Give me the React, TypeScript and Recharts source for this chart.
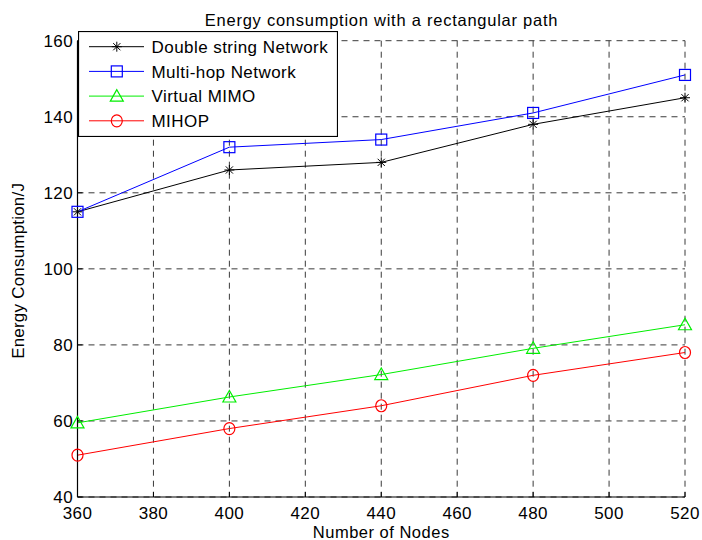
import React from 'react';
import { LineChart, Line, XAxis, YAxis, CartesianGrid, Legend, Label } from 'recharts';

const nodes = [360, 400, 440, 480, 520];
const doubleString = [115, 126, 128, 138, 145];
const multiHop = [115, 132, 134, 141, 151];
const virtualMimo = [59.5, 66.3, 72.2, 79.1, 85.3];
const mihop = [51, 58, 64, 72, 78];

const xTicks = [360, 380, 400, 420, 440, 460, 480, 500, 520];
const yTicks = [40, 60, 80, 100, 120, 140, 160];

const titleText = 'Energy consumption with a rectangular path';
const xLabelText = 'Number of Nodes';
const yLabelText = 'Energy Consumption/J';

const FONT = '"Liberation Sans", Arial, Helvetica, sans-serif';

const data = nodes.map((n, i) => ({
  n,
  ds: doubleString[i],
  mh: multiHop[i],
  vm: virtualMimo[i],
  mi: mihop[i],
}));

type Shape = 'star' | 'square' | 'triangle' | 'circle';

const Marker = ({ cx, cy, shape, color }: { cx: number; cy: number; shape: Shape; color: string }) => {
  if (cx == null || cy == null) return null;
  if (shape === 'star') {
    const r = 5;
    const d = 3.6;
    return (
      <g stroke={color} strokeWidth={1} fill="none">
        <line x1={cx - r} y1={cy} x2={cx + r} y2={cy} />
        <line x1={cx} y1={cy - r} x2={cx} y2={cy + r} />
        <line x1={cx - d} y1={cy - d} x2={cx + d} y2={cy + d} />
        <line x1={cx - d} y1={cy + d} x2={cx + d} y2={cy - d} />
      </g>
    );
  }
  if (shape === 'square') {
    return <rect x={cx - 5.5} y={cy - 5.5} width={11} height={11} stroke={color} strokeWidth={1.2} fill="none" />;
  }
  if (shape === 'triangle') {
    const p = `${cx},${cy - 6.5} ${cx - 6.5},${cy + 5} ${cx + 6.5},${cy + 5}`;
    return <polygon points={p} stroke={color} strokeWidth={1.2} fill="none" />;
  }
  return <ellipse cx={cx} cy={cy} rx={5.5} ry={6} stroke={color} strokeWidth={1.2} fill="none" />;
};

const series = [
  { key: 'ds', name: 'Double string Network', color: '#000000', shape: 'star' as Shape },
  { key: 'mh', name: 'Multi-hop Network', color: '#0000ff', shape: 'square' as Shape },
  { key: 'vm', name: 'Virtual MIMO', color: '#00ee00', shape: 'triangle' as Shape },
  { key: 'mi', name: 'MIHOP', color: '#ff0000', shape: 'circle' as Shape },
];

const LegendBox = () => (
  <svg width={260} height={106} style={{ display: 'block' }}>
    <rect x={0.5} y={0.5} width={259} height={105} fill="#ffffff" stroke="#000000" strokeWidth={1.2} />
    {series.map((s, i) => {
      const cy = 15.7 + i * 24.7;
      return (
        <g key={s.key}>
          <line x1={11} y1={cy} x2={66} y2={cy} stroke={s.color} strokeWidth={1} />
          <Marker cx={38.8} cy={cy} shape={s.shape} color={s.color} />
          <text x={73.5} y={cy + 6.2} fontSize={17} fontFamily={FONT} letterSpacing={0.45} fill="#000">
            {s.name}
          </text>
        </g>
      );
    })}
  </svg>
);

export default function App() {
  return (
    <div style={{ position: 'absolute', left: 0, top: 0, width: 702, height: 540, background: '#fff', overflow: 'hidden' }}>
      <div
        style={{
          position: 'absolute',
          left: 0,
          top: 11.5,
          width: 763,
          textAlign: 'center',
          fontFamily: FONT,
          fontSize: 16.5,
          lineHeight: '17px',
          letterSpacing: 0.75,
          color: '#000',
          zIndex: 2,
          pointerEvents: 'none',
        }}
      >
        {titleText}
      </div>
      <LineChart
        width={702}
        height={540}
        data={data}
        margin={{ top: 40.7, right: 17, bottom: 13, left: 17.5 }}
        style={{ fontFamily: FONT }}
      >
        <CartesianGrid stroke="#3a3a3a" strokeDasharray="6 5" strokeWidth={1} />
        <XAxis
          dataKey="n"
          type="number"
          domain={[360, 520]}
          ticks={xTicks}
          height={30}
          tickSize={-5}
          tickMargin={15}
          axisLine={{ stroke: '#000', strokeWidth: 1.2 }}
          tickLine={{ stroke: '#000' }}
          tick={{ fill: '#000', fontSize: 17, fontFamily: FONT, letterSpacing: 0.4 }}
          interval={0}
        >
          <Label
            content={(props: any) => {
              const vb = props.viewBox || { x: 77.5, y: 497, width: 607.5, height: 30 };
              return (
                <text
                  x={vb.x + vb.width / 2}
                  y={vb.y + vb.height + 10.5}
                  textAnchor="middle"
                  fontSize={16.5}
                  fontFamily={FONT}
                  letterSpacing={0.5}
                  fill="#000"
                >
                  {xLabelText}
                </text>
              );
            }}
          />
        </XAxis>
        <YAxis
          type="number"
          domain={[40, 160]}
          ticks={yTicks}
          width={60}
          tickSize={-5}
          tickMargin={9.5}
          axisLine={{ stroke: '#000', strokeWidth: 1.2 }}
          tickLine={{ stroke: '#000' }}
          tick={{ fill: '#000', fontSize: 17, fontFamily: FONT, letterSpacing: 0.4 }}
          interval={0}
        >
          <Label
            content={(props: any) => {
              const vb = props.viewBox || { x: 17.5, y: 40.7, width: 60, height: 456.3 };
              const cx = vb.x + 7;
              const cy = vb.y + vb.height / 2 + 2;
              return (
                <text
                  x={cx}
                  y={cy}
                  transform={`rotate(-90 ${cx} ${cy})`}
                  textAnchor="middle"
                  fontSize={17}
                  fontFamily={FONT}
                  letterSpacing={0.2}
                  fill="#000"
                >
                  {yLabelText}
                </text>
              );
            }}
          />
        </YAxis>
        {series.map((s) => (
          <Line
            key={s.key}
            type="linear"
            dataKey={s.key}
            name={s.name}
            stroke={s.color}
            strokeWidth={1}
            isAnimationActive={false}
            dot={(p: any) => <Marker key={`${s.key}-${p.index}`} cx={p.cx} cy={p.cy} shape={s.shape} color={s.color} />}
            activeDot={false}
          />
        ))}
        <Legend
          layout="vertical"
          align="center"
          verticalAlign="middle"
          content={() => <LegendBox />}
          wrapperStyle={{ position: 'absolute', left: 77.5, top: 31, width: 260, height: 106, margin: 0 }}
        />
      </LineChart>
    </div>
  );
}
